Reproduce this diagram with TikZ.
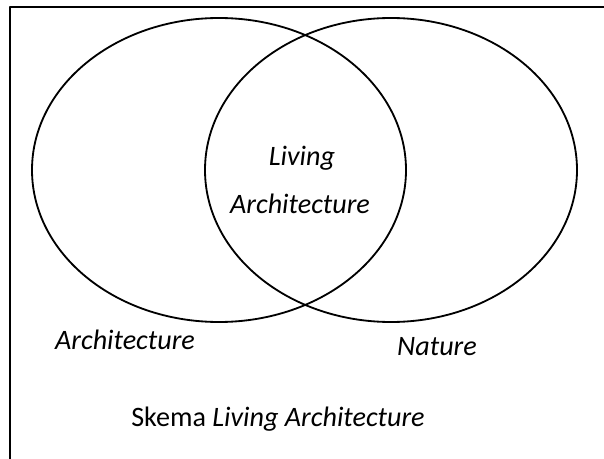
\documentclass[tikz,border=0pt]{standalone}
\usepackage{fontspec}
\setmainfont{Carlito}
\usetikzlibrary{positioning}

\begin{document}
\begin{tikzpicture}[x=0.025cm, y=-0.025cm, line cap=round, line join=round,
	lbl/.style={font=\fontsize{20}{24}\selectfont\itshape, inner sep=0pt}]
	\useasboundingbox (0,0) rectangle (604,459);

	% Рамка
	\draw[line width=1.4pt] (10,7) rectangle (640,490);

	% Два эллипса
	\draw[line width=1.3pt] (219,170) ellipse [x radius=187, y radius=152];
	\draw[line width=1.3pt] (391,170) ellipse [x radius=186, y radius=152];

	% Подписи
	\node[lbl] (living) at (302,158) {Living};
	\node[lbl] (arch) at (300,204) {Architecture};
	\node[lbl] (left) at (125,340) {Architecture};
	\node[lbl] (nature) at (437,347) {Nature};
	\node[inner sep=0pt, font=\fontsize{20}{24}\selectfont] (skema) at (278,419) {Skema \textit{Living Architecture}};
\end{tikzpicture}
\end{document}
